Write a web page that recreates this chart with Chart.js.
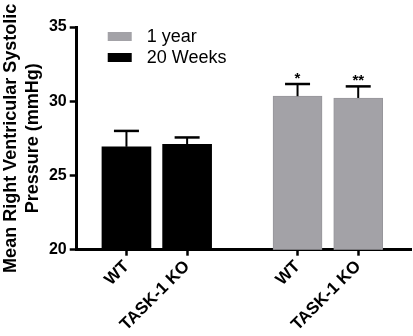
<!DOCTYPE html>
<html>
<head>
<meta charset="utf-8">
<script src="https://cdn.jsdelivr.net/npm/chart.js@4/dist/chart.umd.min.js"></script>
<style>
  body { margin: 0; background: #fff; }
  #wrap { width: 413px; height: 336px; }
</style>
</head>
<body>
<div id="wrap"><canvas id="rvsp"></canvas></div>
<script>
// data
const categories = ["WT", "TASK-1 KO"];
const groups = ["20 Weeks", "1 year"];
const weeks20 = [26.93, 27.1];
const weeks20Sem = [1.07, 0.46];
const year1 = [30.34, 30.22];
const year1Sem = [0.82, 0.78];
const year1Stars = ["*", "**"];
const yTicks = [20, 25, 30, 35];

// layout: second group is pushed right by a gap (in category units)
const GROUP_GAP = 0.82;
const FONT = "'Liberation Sans', Arial, sans-serif";
const GREY = "#a3a2a7";

function xPos(group, i) {
  return 1 + i + group * (categories.length + GROUP_GAP);
}
const tickPos = [];
const tickLabels = [];
groups.forEach((g, gi) => categories.forEach((c, i) => {
  tickPos.push(xPos(gi, i));
  tickLabels.push(c);
}));

const datasets = [
  {
    label: groups[1],
    data: year1.map((v, i) => ({ x: xPos(1, i), y: v })),
    sem: year1Sem,
    stars: year1Stars,
    backgroundColor: GREY,
    borderColor: "#97969b",
    borderWidth: 1
  },
  {
    label: groups[0],
    data: weeks20.map((v, i) => ({ x: xPos(0, i), y: v })),
    sem: weeks20Sem,
    stars: [],
    backgroundColor: "#000",
    borderWidth: 0
  }
];

const errorBars = {
  id: "errorBars",
  afterDatasetsDraw(chart) {
    const ctx = chart.ctx;
    const y = chart.scales.y;
    ctx.save();
    ctx.strokeStyle = "#000";
    ctx.fillStyle = "#000";
    chart.data.datasets.forEach((ds, di) => {
      chart.getDatasetMeta(di).data.forEach((bar, i) => {
        const top = y.getPixelForValue(ds.data[i].y + ds.sem[i]);
        ctx.lineWidth = 2;
        ctx.beginPath();
        ctx.moveTo(bar.x, bar.y);
        ctx.lineTo(bar.x, top);
        ctx.stroke();
        ctx.lineWidth = 2.5;
        ctx.beginPath();
        ctx.moveTo(bar.x - 12.5, top);
        ctx.lineTo(bar.x + 12.5, top);
        ctx.stroke();
        if (ds.stars[i]) {
          ctx.font = "bold 15px " + FONT;
          ctx.textAlign = "center";
          ctx.textBaseline = "alphabetic";
          ctx.fillText(ds.stars[i], bar.x, top - 1);
        }
      });
    });
    ctx.restore();
  }
};

const innerLegend = {
  id: "innerLegend",
  afterDraw(chart) {
    const ctx = chart.ctx;
    const a = chart.chartArea;
    ctx.save();
    ctx.font = "18px " + FONT;
    ctx.textBaseline = "middle";
    ctx.textAlign = "left";
    chart.data.datasets.forEach((ds, i) => {
      const top = a.top + 5 + i * 21;
      ctx.fillStyle = ds.backgroundColor;
      ctx.fillRect(a.left + 31, top, 24, 9);
      ctx.fillStyle = "#000";
      ctx.fillText(ds.label, a.left + 70, top + 5);
    });
    ctx.restore();
  }
};

new Chart(document.getElementById("rvsp"), {
  type: "bar",
  data: { datasets },
  options: {
    responsive: true,
    maintainAspectRatio: false,
    animation: false,
    devicePixelRatio: 1,
    layout: { padding: { top: 27, right: 2, left: 0, bottom: 0 } },
    datasets: { bar: { grouped: false, barThickness: 49 } },
    plugins: { legend: { display: false }, tooltip: { enabled: false } },
    scales: {
      x: {
        type: "linear",
        offset: false,
        min: 1 - 50 / 61,
        max: tickPos[tickPos.length - 1] + 0.87,
        afterBuildTicks(scale) {
          scale.ticks = tickPos.map(v => ({ value: v }));
        },
        ticks: {
          autoSkip: false,
          minRotation: 45,
          maxRotation: 45,
          padding: 1,
          color: "#000",
          font: { family: FONT, size: 17, weight: "bold" },
          callback: (v, i) => tickLabels[i]
        },
        grid: {
          drawOnChartArea: false,
          offset: false,
          tickLength: 6,
          tickWidth: 2.5,
          tickColor: "#000"
        },
        border: { color: "#000", width: 3 }
      },
      y: {
        min: yTicks[0],
        max: yTicks[yTicks.length - 1],
        afterBuildTicks(scale) {
          scale.ticks = yTicks.map(v => ({ value: v }));
        },
        ticks: {
          padding: 3,
          color: "#000",
          font: { family: FONT, size: 16, weight: "bold" }
        },
        grid: {
          drawOnChartArea: false,
          tickLength: 7,
          tickWidth: 2.5,
          tickColor: "#000"
        },
        border: { color: "#000", width: 3 },
        title: {
          display: true,
          text: ["Mean Right Ventricular Systolic", "Pressure (mmHg)"],
          color: "#000",
          font: { family: FONT, size: 18, weight: "bold", lineHeight: 1.22 },
          padding: { top: 0, bottom: 2 }
        }
      }
    }
  },
  plugins: [errorBars, innerLegend]
});
</script>
</body>
</html>
